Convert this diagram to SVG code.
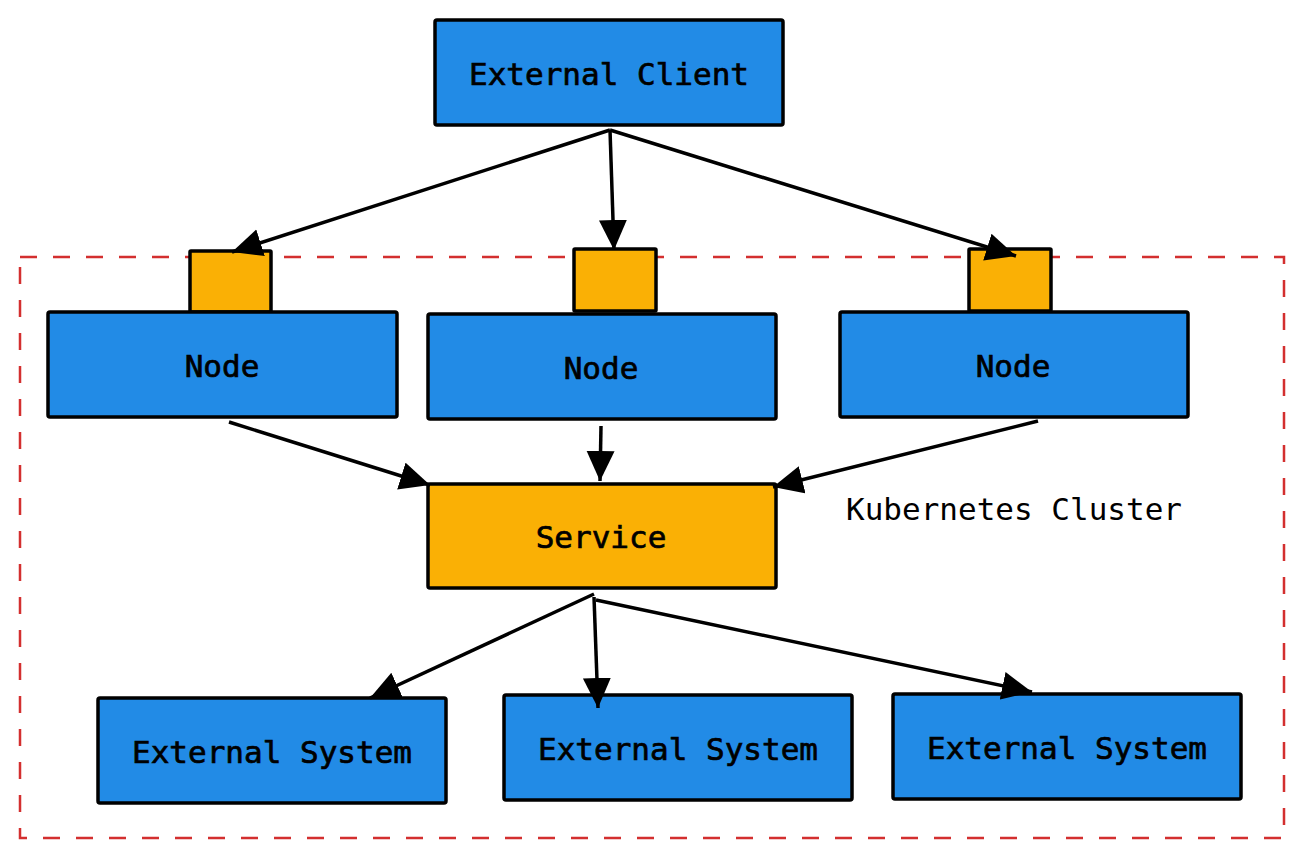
<svg xmlns="http://www.w3.org/2000/svg" width="1304" height="858" viewBox="0 0 1304 858">
<style>
.blue{fill:#228be6;stroke:#000;stroke-width:3.5}
.orange{fill:#fab005;stroke:#000;stroke-width:3.5}
.lbl{font-family:"DejaVu Sans Mono","Liberation Mono",monospace;font-size:31px;fill:#000;text-anchor:middle;stroke:#000;stroke-width:0.7}
.plain{stroke:none}
.edge{stroke:#000;stroke-width:3.5;fill:none;marker-end:url(#arr)}
</style>
<defs>
<marker id="arr" markerUnits="userSpaceOnUse" markerWidth="32" markerHeight="30" refX="30" refY="14" orient="auto">
<path d="M0,0 L30,14 L0,28 z" fill="#000"/>
</marker>
</defs>
<rect width="1304" height="858" fill="#fff"/>
<g id="cluster">
<rect x="20" y="257" width="1264" height="581" fill="none" stroke="#d32f2f" stroke-width="2.5" stroke-dasharray="17 16"/>
<text class="lbl plain" x="1014" y="520">Kubernetes Cluster</text>
</g>
<g id="external-client"><rect class="blue" x="435" y="20" width="348" height="105" rx="2"/><text class="lbl" x="609" y="85">External Client</text></g>
<g id="port1"><rect class="orange" x="190" y="251" width="81" height="61" rx="1"/></g>
<g id="port2"><rect class="orange" x="574" y="249" width="82" height="62" rx="1"/></g>
<g id="port3"><rect class="orange" x="969" y="249" width="82" height="62" rx="1"/></g>
<g id="node1"><rect class="blue" x="48" y="312" width="349" height="105" rx="2"/><text class="lbl" x="222" y="377">Node</text></g>
<g id="node2"><rect class="blue" x="428" y="314" width="348" height="105" rx="2"/><text class="lbl" x="601" y="379">Node</text></g>
<g id="node3"><rect class="blue" x="840" y="312" width="348" height="105" rx="2"/><text class="lbl" x="1013" y="377">Node</text></g>
<g id="service"><rect class="orange" x="428" y="484" width="348" height="104" rx="2"/><text class="lbl" x="601" y="548">Service</text></g>
<g id="external-system1"><rect class="blue" x="98" y="698" width="348" height="105" rx="2"/><text class="lbl" x="272" y="763">External System</text></g>
<g id="external-system2"><rect class="blue" x="504" y="695" width="348" height="105" rx="2"/><text class="lbl" x="678" y="760">External System</text></g>
<g id="external-system3"><rect class="blue" x="893" y="694" width="348" height="105" rx="2"/><text class="lbl" x="1067" y="759">External System</text></g>
<g id="connectors">
<line class="edge" x1="610" y1="130" x2="232" y2="252"/>
<line class="edge" x1="610" y1="130" x2="614" y2="250"/>
<line class="edge" x1="610" y1="130" x2="1016" y2="256"/>
<line class="edge" x1="229" y1="422" x2="430" y2="485"/>
<line class="edge" x1="601" y1="426" x2="600" y2="481"/>
<line class="edge" x1="1038" y1="421" x2="773" y2="487"/>
<line class="edge" x1="594" y1="594" x2="370" y2="698"/>
<line class="edge" x1="594" y1="597" x2="598" y2="708"/>
<line class="edge" x1="596" y1="600" x2="1032" y2="692"/>
</g>
</svg>
